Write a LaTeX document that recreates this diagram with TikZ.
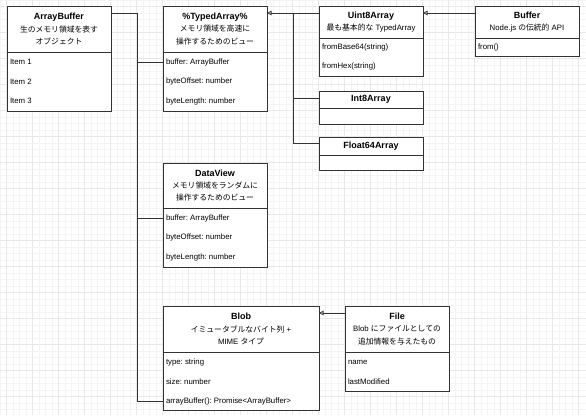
\documentclass[tikz,border=0pt]{standalone}
\usepackage{fontspec}
\setmainfont{Liberation Sans}
\newfontfamily\jpfont{Noto Sans CJK JP}
\usepackage{tikz}
\usetikzlibrary{positioning,arrows.meta}
\usepackage{xcolor}
\definecolor{edge}{rgb}{0.20,0.20,0.20}
\definecolor{gridmin}{rgb}{0.955,0.955,0.955}
\definecolor{gridmaj}{rgb}{0.91,0.91,0.91}
\newcommand{\ja}[1]{{\jpfont #1}}
\newcommand{\ttl}[1]{{\fontsize{9}{12.3}\selectfont\bfseries #1}}
\frenchspacing

\begin{document}
\begin{tikzpicture}[
    x=1pt, y=-1pt,
    every node/.style={font=\fontsize{7.8}{12.3}\selectfont},
    hdr/.style={
        rectangle, draw=edge, line width=0.8pt, fill=white, anchor=north west,
        minimum width=104pt, inner sep=0pt, outer sep=0pt, align=center
    },
    bdy/.style={
        rectangle, draw=edge, line width=0.8pt, fill=white,
        minimum width=104pt, inner sep=0pt, outer sep=0pt
    },
    row/.style={anchor=west, inner sep=3pt, outer sep=0pt},
    link/.style={draw=edge, line width=0.8pt},
    inh/.style={-{Triangle[open, length=4.5pt, width=4.5pt]}, draw=edge, line width=0.8pt}
]

\useasboundingbox (0,0) rectangle (586,415);

% Grid
\foreach \k in {0,...,89} {
  \draw[gridmin, line width=1pt] ({6.5*\k},0) -- ({6.5*\k},415);
}
\foreach \k in {0,...,63} {
  \draw[gridmin, line width=1pt] (0,{6.5*\k}) -- (586,{6.5*\k});
}
\foreach \k in {0,...,22} {
  \draw[gridmaj, line width=1pt] ({6+26*\k},0) -- ({6+26*\k},415);
}
\foreach \k in {0,...,15} {
  \draw[gridmaj, line width=1pt] (0,{6+26*\k}) -- (586,{6+26*\k});
}

% ArrayBuffer
\node[hdr, minimum height=46pt] (AB) at (7,6) {\ttl{ArrayBuffer}\\\ja{生のメモリ領域を表す}\\\ja{オブジェクト}};
\node[bdy, minimum height=59pt, below=0pt of AB] (ABb) {};
\node[row] (AB1) at ([yshift=-10pt]ABb.north west) {Item 1};
\node[row] (AB2) at ([yshift=-29.5pt]ABb.north west) {Item 2};
\node[row] (AB3) at ([yshift=-49pt]ABb.north west) {Item 3};

% %TypedArray%
\node[hdr, minimum height=46pt] (TA) at (163,6) {\ttl{\%TypedArray\%}\\\ja{メモリ領域を高速に}\\\ja{操作するためのビュー}};
\node[bdy, minimum height=59pt, below=0pt of TA] (TAb) {};
\node[row] (TA1) at ([yshift=-10pt]TAb.north west) {buffer: ArrayBuffer};
\node[row] (TA2) at ([yshift=-29.5pt]TAb.north west) {byteOffset: number};
\node[row] (TA3) at ([yshift=-49pt]TAb.north west) {byteLength: number};

% Uint8Array / Int8Array / Float64Array
\node[hdr, minimum height=32pt] (U8) at (319,6) {\ttl{Uint8Array}\\\ja{最も基本的な} TypedArray};
\node[bdy, minimum height=38pt, below=0pt of U8] (U8b) {};
\node[row] (U81) at ([yshift=-9pt]U8b.north west) {fromBase64(string)};
\node[row] (U82) at ([yshift=-28.5pt]U8b.north west) {fromHex(string)};

\node[hdr, minimum height=17pt] (I8) at (319,91) {\ttl{Int8Array}};
\node[bdy, minimum height=16pt, below=0pt of I8] (I8b) {};

\node[hdr, minimum height=18pt] (F64) at (319,137) {\ttl{Float64Array}};
\node[bdy, minimum height=15pt, below=0pt of F64] (F64b) {};

% Buffer
\node[hdr, minimum height=32pt] (BUF) at (475,6) {\ttl{Buffer}\\Node.js \ja{の伝統的} API};
\node[bdy, minimum height=18pt, below=0pt of BUF] (BUFb) {};
\node[row] (BUF1) at ([yshift=-9pt]BUFb.north west) {from()};

% DataView
\node[hdr, minimum height=45pt] (DV) at (163,163) {\ttl{DataView}\\\ja{メモリ領域をランダムに}\\\ja{操作するためのビュー}};
\node[bdy, minimum height=59pt, below=0pt of DV] (DVb) {};
\node[row] (DV1) at ([yshift=-10pt]DVb.north west) {buffer: ArrayBuffer};
\node[row] (DV2) at ([yshift=-29.5pt]DVb.north west) {byteOffset: number};
\node[row] (DV3) at ([yshift=-49pt]DVb.north west) {byteLength: number};

% Blob
\node[hdr, minimum width=156pt, minimum height=46pt] (BL) at (163,306) {\ttl{Blob}\\\ja{イミュータブルなバイト列} +\\MIME \ja{タイプ}};
\node[bdy, minimum width=156pt, minimum height=58pt, below=0pt of BL] (BLb) {};
\node[row] (BL1) at ([yshift=-10pt]BLb.north west) {type: string};
\node[row] (BL2) at ([yshift=-29.5pt]BLb.north west) {size: number};
\node[row] (BL3) at ([yshift=-49pt]BLb.north west) {arrayBuffer(): Promise<ArrayBuffer>};

% File
\node[hdr, minimum height=46pt] (FI) at (345,306) {\ttl{File}\\Blob \ja{にファイルとしての}\\\ja{追加情報を与えたもの}};
\node[bdy, minimum height=39pt, below=0pt of FI] (FIb) {};
\node[row] (FI1) at ([yshift=-10pt]FIb.north west) {name};
\node[row] (FI2) at ([yshift=-29.5pt]FIb.north west) {lastModified};

% ── ArrayBuffer references ──────────────────────────────────
\coordinate (bus) at (137,0);
\draw[link] ([yshift=-7pt]AB.north east) -| (bus |- BL3.west) -- (BL3.west);
\draw[link] (bus |- TA1.west) -- (TA1.west);
\draw[link] (bus |- DV1.west) -- (DV1.west);

% ── inheritance ─────────────────────────────────────────────
\coordinate (tbus) at (293,0);
\coordinate (TAin) at ([yshift=-7pt]TA.north east);
\draw[link] ([yshift=-6pt]F64.north west) -| (tbus |- TAin);
\draw[link] ([yshift=-7pt]I8.north west) -| (tbus |- TAin);
\draw[inh] ([yshift=-7pt]U8.north west) -- (TAin);
\draw[inh] ([yshift=-7pt]BUF.north west) -- ([yshift=-7pt]U8.north east);
\draw[inh] ([yshift=-7pt]FI.north west) -- ([yshift=-7pt]BL.north east);

\end{tikzpicture}
\end{document}
